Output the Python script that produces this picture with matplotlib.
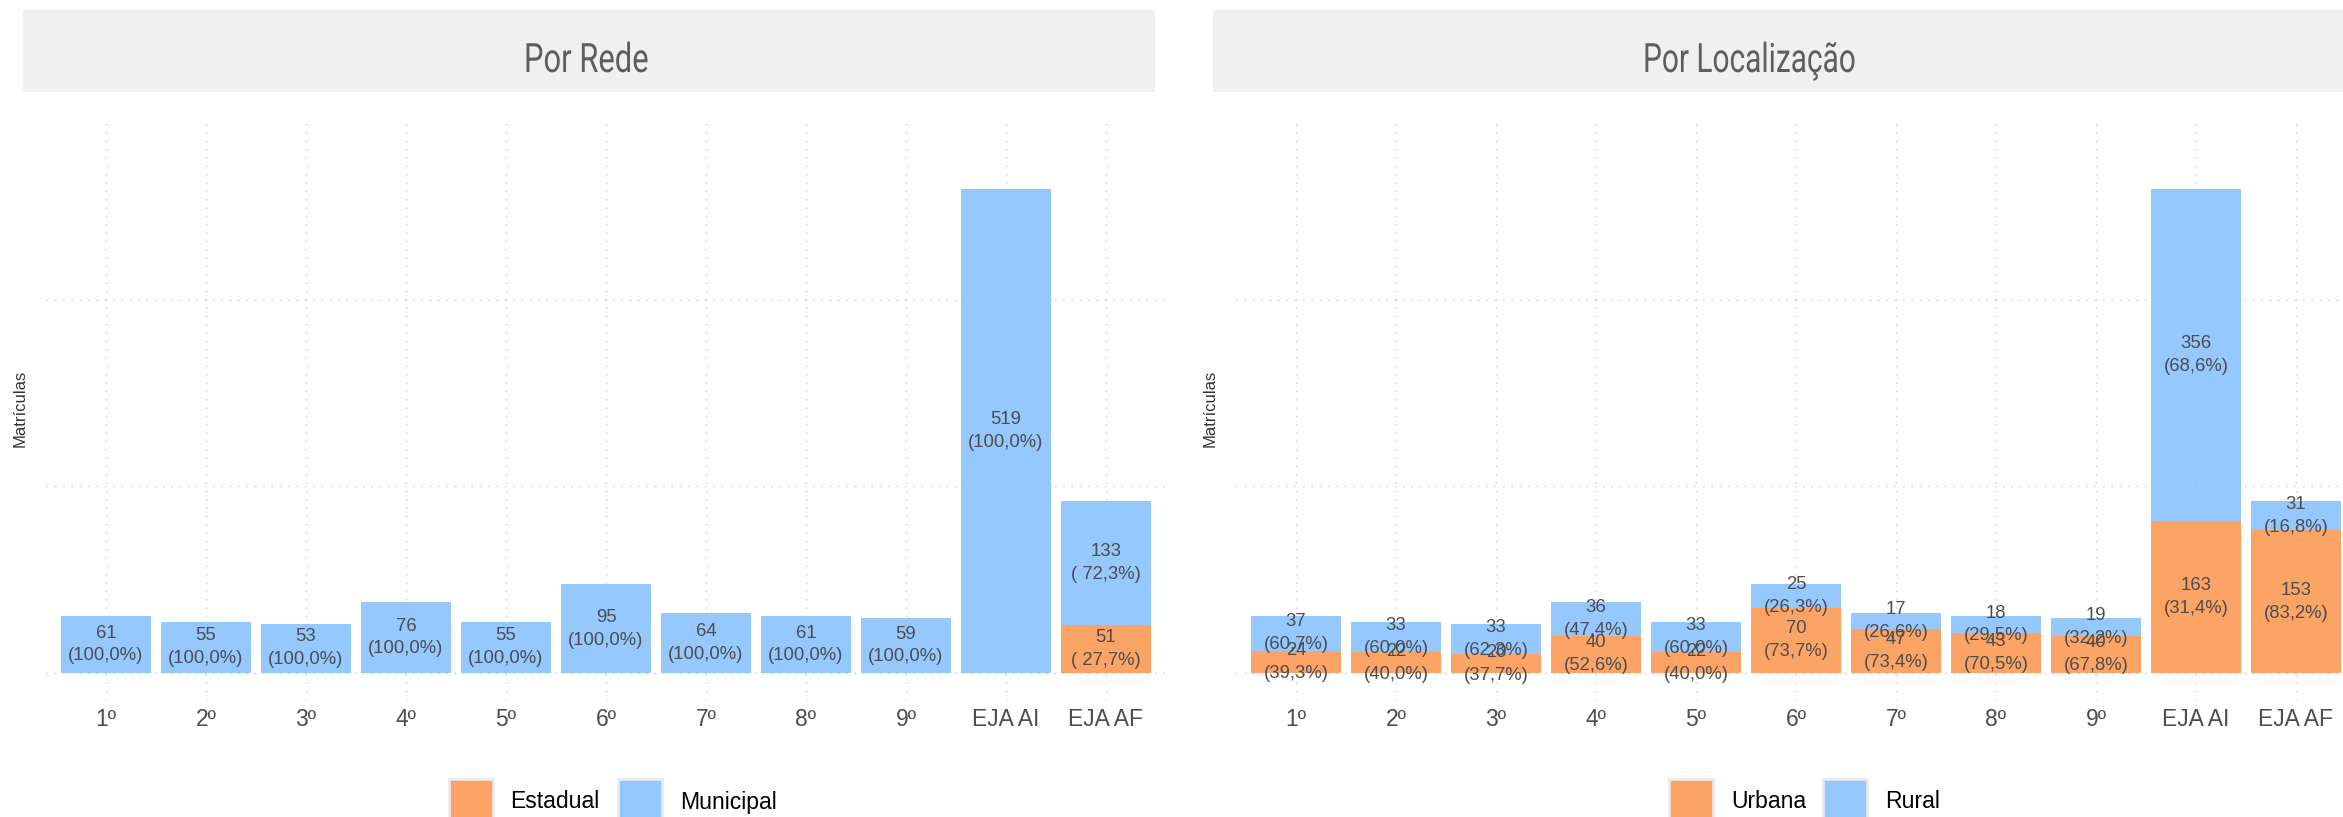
import numpy as np
import matplotlib
matplotlib.use("Agg")
import matplotlib.pyplot as plt
from matplotlib.patches import Rectangle, PathPatch
from matplotlib.textpath import TextPath
from matplotlib.font_manager import FontProperties
from matplotlib.transforms import Affine2D

plt.rcParams['font.family'] = ['Liberation Sans', 'DejaVu Sans']

etapas = ['1º', '2º', '3º', '4º', '5º', '6º', '7º', '8º', '9º', 'EJA AI', 'EJA AF']

# Por Rede
estadual = [0, 0, 0, 0, 0, 0, 0, 0, 0, 0, 51]
municipal = [61, 55, 53, 76, 55, 95, 64, 61, 59, 519, 133]

# Por Localização
urbana = [24, 22, 20, 40, 22, 70, 47, 43, 40, 163, 153]
rural = [37, 33, 33, 36, 33, 25, 17, 18, 19, 356, 31]

COR_LARANJA = '#fc9a55'
COR_AZUL = '#88c2ff'
W, H = 2343, 817


def fx(px):
    return px / W


def fy(py):
    return 1 - py / H


def fmt_pct(vals):
    # mesmo comportamento do format() do R: largura comum
    strs = ['{:.1f}'.format(v).replace('.', ',') for v in vals]
    w = max(len(s) for s in strs)
    return ['(' + s.rjust(w) + '%)' for s in strs]


def painel(ax, baixo, cima):
    baixo = np.array(baixo, dtype=float)
    cima = np.array(cima, dtype=float)
    total = baixo + cima
    x = np.arange(len(etapas))
    ax.bar(x, baixo, width=0.9, color=COR_LARANJA, alpha=0.9, zorder=2)
    ax.bar(x, cima, width=0.9, bottom=baixo, color=COR_AZUL, alpha=0.9, zorder=2)

    pcts = np.concatenate([baixo / total * 100, cima / total * 100])
    mask = np.concatenate([baixo > 0, cima > 0])
    it = iter(fmt_pct(pcts[mask]))
    for i in range(len(x)):
        if baixo[i] > 0:
            ax.text(x[i], baixo[i] / 2, '{:d}\n{}'.format(int(baixo[i]), next(it)),
                    ha='center', va='center', fontsize=13.3, color='#4d4d4d',
                    linespacing=1.45, zorder=3)
    for i in range(len(x)):
        if cima[i] > 0:
            ax.text(x[i], baixo[i] + cima[i] / 2, '{:d}\n{}'.format(int(cima[i]), next(it)),
                    ha='center', va='center', fontsize=13.3, color='#4d4d4d',
                    linespacing=1.45, zorder=3)

    ax.set_xlim(-0.6, len(etapas) - 0.4)
    ax.set_ylim(-29, 596)
    ax.set_xticks(x)
    ax.set_xticklabels(etapas, fontsize=16.5, color='#4d4d4d')
    ax.set_yticks([0, 200, 400])
    ax.set_yticklabels([])
    ax.tick_params(length=0, pad=6)
    ax.grid(True, color='#cccccc', linestyle=(0, (1, 5)), linewidth=1.0, zorder=0)
    ax.set_axisbelow(True)
    for s in ax.spines.values():
        s.set_visible(False)


fig = plt.figure(figsize=(W / 100, H / 100), dpi=100)

ax1 = fig.add_axes([fx(46), fy(700), fx(1120), 583 / H])
ax2 = fig.add_axes([fx(1236), fy(700), fx(1120), 583 / H])
painel(ax1, estadual, municipal)
painel(ax2, urbana, rural)

# camada em pixels para as faixas de título (fonte condensada simulada)
over = fig.add_axes([0, 0, 1, 1], zorder=-1)
over.set_xlim(0, W)
over.set_ylim(0, H)
over.axis('off')

fp = FontProperties(family='Roboto', weight='normal')
for x0, x1, xc, larg, txt in [(23, 1155, 587, 121, 'Por Rede'),
                              (1213, 2400, 1750, 209, 'Por Localização')]:
    over.add_patch(Rectangle((x0, H - 92), x1 - x0, 82, facecolor='#f0f0f0',
                             edgecolor='none'))
    tp = TextPath((0, 0), txt, size=40.5, prop=fp)
    ext = tp.get_extents()
    sx = larg / ext.width
    tr = Affine2D().translate(-ext.x0 - ext.width / 2, 0).scale(sx, 1).translate(xc, H - 72)
    over.add_patch(PathPatch(tr.transform_path(tp), facecolor='#5e5e5e',
                             edgecolor='none'))

# rótulo do eixo y
for xl in [20, 1210]:
    fig.text(fx(xl), fy(408), 'Matrículas', rotation=90, ha='center', va='center',
             fontsize=12, color='#333333')

# legendas
legendas = [
    [(449, COR_LARANJA, 510, 'Estadual'), (618, COR_AZUL, 680, 'Municipal')],
    [(1669, COR_LARANJA, 1731, 'Urbana'), (1823, COR_AZUL, 1885, 'Rural')],
]
for itens in legendas:
    for kx, cor, tx, nome in itens:
        fig.patches.append(Rectangle((fx(kx), fy(823)), fx(44), 44 / H,
                                     transform=fig.transFigure, facecolor=cor,
                                     alpha=0.9, edgecolor='#ebebeb', linewidth=2))
        fig.text(fx(tx), fy(802), nome, ha='left', va='center', fontsize=16.6,
                 color='black')

fig.savefig('out.png', dpi=100)
